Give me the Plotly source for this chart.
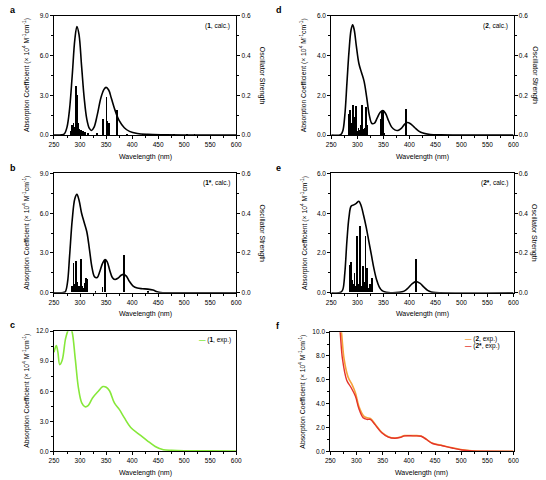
import plotly.graph_objects as go

# ---------------- data ----------------
# (a) 1, calc.
a_wl = [250, 265, 270, 275, 280, 285, 290, 294, 298, 303, 308, 313, 318, 322, 327, 333, 340, 346, 350, 355, 360, 367, 375, 385, 395, 410, 430, 460, 500, 600]
a_eps = [0, 0.02, 0.1, 0.6, 2.0, 4.5, 7.2, 8.2, 7.6, 5.2, 2.8, 1.2, 0.5, 0.35, 0.6, 1.5, 2.8, 3.45, 3.6, 3.4, 2.8, 1.9, 1.1, 0.55, 0.28, 0.12, 0.05, 0.02, 0.01, 0]
a_stick_wl = [283, 285, 287.5, 290, 292, 293.5, 295, 297, 299, 301, 303, 306, 310, 315, 333, 344, 350.5, 353, 355.5, 371, 390, 420, 450, 480, 505, 520]
a_stick_f = [0.02, 0.05, 0.06, 0.04, 0.25, 0.09, 0.2, 0.06, 0.03, 0.025, 0.025, 0.02, 0.015, 0.01, 0.01, 0.084, 0.193, 0.07, 0.06, 0.127, 0.005, 0.005, 0.005, 0.005, 0.005, 0.005]

# (b) 1*, calc.
b_wl = [250, 268, 272, 276, 280, 285, 290, 294, 298, 303, 308, 313, 318, 323, 328, 333, 338, 343, 348, 352, 357, 362, 367, 373, 379, 384, 389, 395, 402, 410, 420, 430, 440, 448, 455, 470, 600]
b_eps = [0, 0.02, 0.1, 0.8, 2.8, 5.5, 7.1, 7.42, 7.0, 6.0, 5.3, 4.6, 3.3, 1.9, 1.2, 1.15, 1.6, 2.2, 2.5, 2.35, 1.7, 1.15, 1.0, 1.1, 1.32, 1.38, 1.25, 0.85, 0.5, 0.35, 0.3, 0.27, 0.2, 0.08, 0.02, 0, 0]
b_stick_wl = [285, 287.5, 289.5, 292, 294, 296, 298, 301.5, 303.5, 306, 309, 311.5, 314, 330, 343, 348.5, 385, 430]
b_stick_f = [0.03, 0.147, 0.04, 0.155, 0.05, 0.03, 0.03, 0.167, 0.03, 0.02, 0.045, 0.073, 0.066, 0.005, 0.028, 0.164, 0.188, 0.005]

# (d) 2, calc.
d_wl = [250, 268, 272, 276, 280, 284, 288, 291, 294, 298, 303, 308, 313, 318, 323, 328, 333, 338, 344, 349, 354, 360, 366, 372, 378, 385, 391, 396, 402, 410, 418, 426, 440, 460, 600]
d_eps = [0, 0.02, 0.2, 1.0, 2.6, 4.2, 5.3, 5.55, 5.3, 4.5, 3.6, 3.15, 2.7, 1.9, 1.0, 0.58, 0.6, 0.85, 1.15, 1.23, 1.1, 0.72, 0.4, 0.26, 0.23, 0.35, 0.55, 0.63, 0.57, 0.38, 0.2, 0.1, 0.03, 0.01, 0]
d_stick_wl = [285, 287, 289, 291, 292.5, 294, 296, 297.5, 299, 301, 303, 305, 307, 309.5, 311, 313, 315, 317.5, 319, 346, 348, 350, 352, 394.5]
d_stick_f = [0.105, 0.125, 0.06, 0.04, 0.152, 0.09, 0.07, 0.145, 0.03, 0.02, 0.035, 0.025, 0.05, 0.15, 0.03, 0.02, 0.035, 0.14, 0.05, 0.08, 0.12, 0.125, 0.01, 0.134]

# (e) 2*, calc.
e_wl = [250, 268, 272, 276, 280, 284, 288, 293, 298, 303, 307, 312, 317, 322, 327, 332, 337, 342, 347, 352, 360, 380, 390, 398, 405, 413, 420, 428, 435, 442, 450, 600]
e_eps = [0, 0.02, 0.15, 1.0, 2.6, 3.8, 4.35, 4.42, 4.5, 4.6, 4.4, 3.9, 3.3, 2.6, 1.9, 1.2, 0.65, 0.3, 0.12, 0.05, 0.01, 0.02, 0.08, 0.25, 0.45, 0.56, 0.48, 0.28, 0.12, 0.04, 0.01, 0]
e_stick_wl = [286, 288.5, 291, 293, 295, 297, 299, 300.5, 303, 305.5, 308, 311, 313, 316.5, 319, 322, 325, 329, 413]
e_stick_f = [0.135, 0.15, 0.06, 0.04, 0.095, 0.03, 0.05, 0.285, 0.04, 0.335, 0.03, 0.13, 0.05, 0.285, 0.12, 0.02, 0.04, 0.072, 0.165]

# (c) 1, exp.
c_wl = [250, 254.4, 257.5, 261, 265.7, 272, 276.3, 280, 284.5, 290.8, 297, 303.3, 309.6, 316, 324, 334.7, 344, 350.4, 356.6, 366, 375.4, 384.9, 397.4, 413, 428.8, 444.4, 460.1, 475.8, 500, 550, 600]
c_eps = [9.9, 10.56, 9.9, 8.66, 9.09, 11.2, 12.0, 12.5, 12.0, 9.25, 6.31, 4.84, 4.45, 4.6, 5.33, 5.98, 6.47, 6.4, 6.05, 4.84, 4.19, 3.37, 2.39, 1.73, 1.08, 0.49, 0.16, 0.1, 0.06, 0.05, 0.04]

# (f) 2 and 2*, exp.
f2_wl = [266, 271.3, 276.3, 283.8, 292, 298.2, 304.5, 313.9, 320, 326.4, 335.8, 348.3, 360.8, 373.3, 382.7, 392, 407.8, 423.4, 432.8, 445.3, 464, 483, 501.7, 520.5, 550, 600]
f2_eps = [12.0, 10.0, 7.75, 6.25, 5.56, 4.88, 3.78, 2.96, 2.82, 2.77, 2.27, 1.59, 1.23, 1.12, 1.18, 1.32, 1.32, 1.29, 1.04, 0.68, 0.49, 0.3, 0.14, 0.05, 0.01, 0]
f2s_wl = [264, 268.8, 273.2, 281.3, 288.8, 298.2, 304.5, 312.6, 320, 326.4, 335.8, 348.3, 360.8, 373.3, 382.7, 392, 407.8, 423.4, 432.8, 445.3, 464, 483, 501.7, 520.5, 550, 600]
f2s_eps = [12.0, 10.0, 7.75, 5.97, 5.42, 4.6, 3.59, 2.82, 2.68, 2.68, 2.22, 1.56, 1.2, 1.1, 1.16, 1.3, 1.3, 1.27, 1.02, 0.66, 0.47, 0.28, 0.12, 0.04, 0.01, 0]

x_ticks = [250, 300, 350, 400, 450, 500, 550, 600]

GREEN = "#86E83A"
ORANGE = "#F5A23A"
RED = "#E4332B"
FONT = "Liberation Sans, Arial, sans-serif"
W, H = 546, 480

fig = go.Figure()

def px_x(p):
    return p / W

def px_y(p):
    return 1 - p / H

# panel geometry in pixels: (x0, x1, y0(top), y1(bottom))
panels = {
    "a": (50, 236, 12, 133),
    "b": (50, 236, 172, 293),
    "c": (50, 236, 332, 454),
    "d": (333, 519, 12, 133),
    "e": (333, 519, 172, 293),
    "f": (332, 519, 333, 454),
}

layout = dict(
    width=W, height=H, margin=dict(l=0, r=0, t=0, b=0),
    paper_bgcolor="white", plot_bgcolor="white", showlegend=False,
    font=dict(family=FONT, size=7, color="black"),
)

tickfont = dict(family=FONT, size=6.5, color="black")

def xaxis_def(key, anchor):
    x0, x1, y0, y1 = panels[key]
    return dict(domain=[px_x(x0), px_x(x1)], anchor=anchor, range=[250, 600],
                tickvals=x_ticks, ticks="outside", ticklen=3, tickwidth=1,
                minor=dict(dtick=25, tick0=250, ticks="outside", ticklen=2, tickwidth=1, tickcolor="black"),
                showline=True, linecolor="black", linewidth=1, mirror=True,
                showgrid=False, zeroline=False, tickfont=tickfont, tickcolor="black")

def yaxis_def(key, anchor, rng, dtick, minor, mirror, side="left", overlaying=None):
    x0, x1, y0, y1 = panels[key]
    d = dict(domain=[px_y(y1), px_y(y0)], anchor=anchor, range=rng, dtick=dtick, tick0=0,
             tickformat=".1f", ticks="outside", ticklen=3, tickwidth=1, side=side,
             minor=dict(dtick=minor, tick0=0, ticks="outside", ticklen=2, tickwidth=1, tickcolor="black"),
             showline=True, linecolor="black", linewidth=1, mirror=mirror,
             showgrid=False, zeroline=False, tickfont=tickfont, tickcolor="black")
    if overlaying:
        d["overlaying"] = overlaying
    return d

def note(text, x, y, size, xanchor="center", yanchor="middle", angle=0):
    return dict(text=text, x=px_x(x), y=px_y(y), xref="paper", yref="paper",
                xanchor=xanchor, yanchor=yanchor, textangle=angle, showarrow=False,
                font=dict(family=FONT, size=size, color="black"))

calc = [
    ("a", a_wl, a_eps, a_stick_wl, a_stick_f, 9, 3, 1.5, "(<b>1</b>, calc.)"),
    ("b", b_wl, b_eps, b_stick_wl, b_stick_f, 9, 3, 1.5, "(<b>1*</b>, calc.)"),
    ("d", d_wl, d_eps, d_stick_wl, d_stick_f, 6, 2, 1, "(<b>2</b>, calc.)"),
    ("e", e_wl, e_eps, e_stick_wl, e_stick_f, 6, 2, 1, "(<b>2*</b>, calc.)"),
]

annotations = []
ytitle = "Absorption Coefficient (× 10<sup>4</sup> M<sup>-1</sup>cm<sup>-1</sup>)"

xi = 1
yi = 1
for key, wl, eps, swl, sf, ymax, dt, mn, lab in calc:
    xn = f"x{xi}" if xi > 1 else "x"
    yl = f"y{yi}" if yi > 1 else "y"
    yr = f"y{yi+1}"
    layout[f"xaxis{xi if xi > 1 else ''}"] = xaxis_def(key, yl)
    layout[f"yaxis{yi if yi > 1 else ''}"] = yaxis_def(key, xn, [0, ymax], dt, mn, False)
    layout[f"yaxis{yi+1}"] = yaxis_def(key, xn, [0, 0.6], 0.2, 0.1, False, side="right", overlaying=yl)
    fig.add_trace(go.Bar(x=swl, y=sf, width=1.2, marker=dict(color="black", line=dict(width=0)),
                         xaxis=xn, yaxis=yr))
    fig.add_trace(go.Scatter(x=wl, y=eps, mode="lines", line=dict(color="black", width=1.6, shape="spline", smoothing=1.0),
                             xaxis=xn, yaxis=yl))
    x0, x1, y0, y1 = panels[key]
    annotations.append(note(lab, x1 - 4, y0 + 4, 6.5, xanchor="right", yanchor="top"))
    off = 26 if x0 < 300 else 21
    annotations.append(note("Oscillator Strength", x1 + off, (y0 + y1) / 2, 7, angle=90))
    xi += 1
    yi += 2

# panel c
layout["xaxis5"] = xaxis_def("c", "y9")
layout["yaxis9"] = yaxis_def("c", "x5", [0, 12], 3, 1.5, True)
fig.add_trace(go.Scatter(x=c_wl, y=c_eps, mode="lines", line=dict(color=GREEN, width=1.6, shape="spline", smoothing=1.0),
                         xaxis="x5", yaxis="y9"))
# panel f
layout["xaxis6"] = xaxis_def("f", "y10")
layout["yaxis10"] = yaxis_def("f", "x6", [0, 10], 2, 1, True)
fig.add_trace(go.Scatter(x=f2_wl, y=f2_eps, mode="lines", line=dict(color=ORANGE, width=1.6, shape="spline", smoothing=1.0),
                         xaxis="x6", yaxis="y10"))
fig.add_trace(go.Scatter(x=f2s_wl, y=f2s_eps, mode="lines", line=dict(color=RED, width=1.4, shape="spline", smoothing=1.0),
                         xaxis="x6", yaxis="y10"))

for key in panels:
    x0, x1, y0, y1 = panels[key]
    annotations.append(note("Wavelength (nm)", (x0 + x1) / 2, y1 + 22, 7))
    annotations.append(note(ytitle, x0 - 28, (y0 + y1) / 2, 6.8, angle=-90))
    lx = 3 if x0 < 300 else 275
    annotations.append(note(f"<b>{key}</b>", lx, y0 - 13, 9, xanchor="left", yanchor="top"))

# legends
annotations.append(note(f"<span style='color:{GREEN}'><b>—</b></span> (<b>1</b>, exp.)", 196, 341, 6.5, xanchor="left"))
annotations.append(note(f"<span style='color:{ORANGE}'><b>—</b></span> (<b>2</b>, exp.)", 467, 339.5, 6.5, xanchor="left"))
annotations.append(note(f"<span style='color:{RED}'><b>—</b></span> (<b>2*</b>, exp.)", 467, 347, 6.5, xanchor="left"))

layout["annotations"] = annotations
layout["bargap"] = 0
fig.update_layout(**layout)
fig.write_html("out.html")
